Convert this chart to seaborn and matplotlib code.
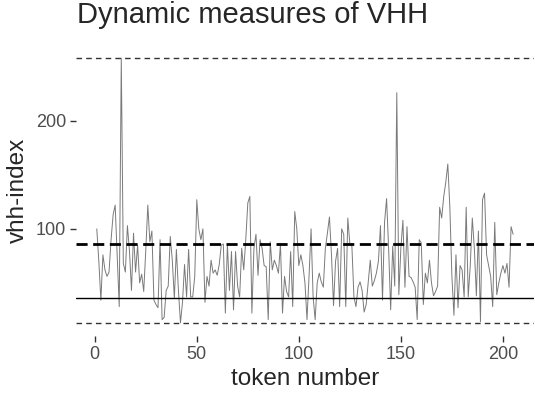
import numpy as np
import pandas as pd
import matplotlib.pyplot as plt
import seaborn as sns

# vhh-index per token
seg1 = [100, 70, 34, 76, 62, 56, 60, 90, 113, 122, 75, 28, 258, 68, 60, 103,
        80, 43, 96, 60, 85, 50, 58, 42, 80, 122, 88, 98, 34, 30, 27]
seg2 = [90, 16, 18, 43, 47, 93, 71, 36, 81, 43, 13, 32, 67, 37, 81, 37, 37,
        56, 127, 100, 90, 100, 32, 56, 47, 71, 59, 62, 57, 67, 85, 86, 22, 86]
seg3 = [43, 79, 25, 79, 47, 37, 82, 62, 90, 124, 130, 22, 82, 95, 57, 90, 82,
        66, 65, 16, 88, 62, 71, 66, 59, 86, 22, 56, 42, 37, 79, 28, 116, 100, 66]
seg4 = [76, 66, 50, 16, 56, 100, 37, 16, 50, 59, 51, 46, 82, 96, 111, 76, 29,
        70, 82, 28, 100, 95, 28, 110, 86, 84, 37, 28, 46, 51, 43, 23, 30, 50, 71]
seg5 = [47, 52, 59, 70, 103, 34, 106, 128, 82, 25, 84, 47, 226, 39, 82, 108,
        46, 102, 56, 55, 51, 46, 16, 90, 87, 30, 59, 50, 71, 50, 38, 42, 47,
        120, 110]
seg6 = [130, 143, 160, 120, 56, 20, 76, 27, 66, 62, 37, 120, 37, 66, 110, 82,
        38, 98, 14, 127, 133, 76, 66, 56, 28, 106, 39, 50, 59, 66, 59, 68, 46,
        102, 95]

vhh = seg1 + seg2 + seg3 + seg4 + seg5 + seg6
tokens = list(range(1, len(vhh) + 1))

upper_ref = 86   # thick dashed reference
lower_ref = 36   # solid reference

df = pd.DataFrame({"token": tokens, "vhh": vhh})

sns.set_style("white")
plt.rcParams['font.family'] = ['Liberation Sans', 'DejaVu Sans']

fig = plt.figure(figsize=(5.35, 3.94), dpi=100)
ax = fig.add_axes([0.142, 0.147, 0.856, 0.739])

sns.lineplot(data=df, x="token", y="vhh", color="#7a7a7a", linewidth=0.7, ax=ax)

ax.axhline(df["vhh"].max(), color="#333333", linestyle=(0, (4, 3)), linewidth=1.0)
ax.axhline(df["vhh"].min(), color="#333333", linestyle=(0, (4, 3)), linewidth=1.0)
ax.axhline(upper_ref, color="black", linestyle=(0, (4, 2)), linewidth=2.0)
ax.axhline(lower_ref, color="black", linestyle="-", linewidth=1.0)

xr = df["token"].max() - df["token"].min()
ax.set_xlim(df["token"].min() - 0.05 * xr, df["token"].max() + 0.05 * xr)
yr = df["vhh"].max() - df["vhh"].min()
ax.set_ylim(df["vhh"].min() - 0.05 * yr, df["vhh"].max() + 0.05 * yr)

ax.set_xticks([0, 50, 100, 150, 200])
ax.set_yticks([100, 200])
for s in ax.spines.values():
    s.set_visible(False)
ax.tick_params(axis="both", length=4, width=1, color="#333333",
               labelsize=13, labelcolor="#4d4d4d", pad=3, left=True, bottom=True)

ax.set_xlabel("token number", fontsize=17.5, labelpad=3.5)
ax.set_ylabel("vhh-index", fontsize=17.5, labelpad=5)
fig.text(0.143, 0.942, "Dynamic measures of VHH", fontsize=21, ha="left", va="baseline")

plt.savefig("out.png", dpi=100)
